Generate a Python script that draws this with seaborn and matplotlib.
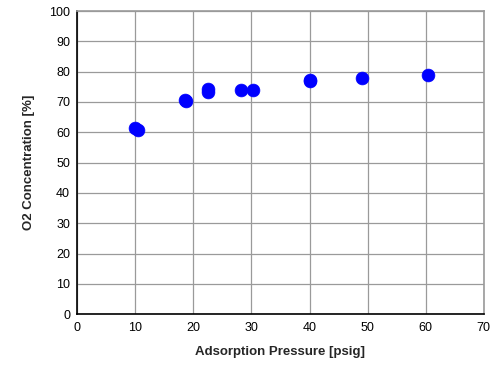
import matplotlib
matplotlib.use("Agg")
import matplotlib.pyplot as plt
from matplotlib.ticker import MultipleLocator
import seaborn as sns
import pandas as pd

# adsorption pressure [psig] vs O2 concentration [%]
pressure = [10.0, 10.5, 18.5, 18.7, 22.5, 22.5, 28.2, 30.3, 40.0, 40.0, 49.0, 60.4]
o2_conc = [61.5, 60.6, 70.7, 70.3, 74.2, 73.4, 73.9, 74.1, 77.3, 76.9, 77.9, 78.8]

df = pd.DataFrame({"pressure": pressure, "o2": o2_conc})

sns.set_style("white")
plt.rcParams["font.family"] = ["Liberation Sans", "DejaVu Sans"]

fig = plt.figure(figsize=(5.04, 3.67), dpi=100)
ax = fig.add_axes([0.153, 0.144, 0.807, 0.826])

sns.scatterplot(data=df, x="pressure", y="o2", ax=ax, color="#0000ff",
                s=85, edgecolor="#0000ff", linewidth=0.5, zorder=3)

ax.set_xlim(0, 70)
ax.set_ylim(0, 100)
ax.xaxis.set_major_locator(MultipleLocator(10))
ax.yaxis.set_major_locator(MultipleLocator(10))
ax.xaxis.set_minor_locator(MultipleLocator(5))
ax.yaxis.set_minor_locator(MultipleLocator(5))
ax.grid(True, which="major", color="#9a9a9a", linewidth=0.9)
ax.set_axisbelow(True)

ax.tick_params(which="both", direction="in", labelsize=9, colors="black")
ax.tick_params(which="major", length=4, width=0.8)
ax.tick_params(which="minor", length=3, width=0.8)
ax.tick_params(axis="x", pad=6)
ax.tick_params(axis="y", pad=5)

for side in ["left", "bottom"]:
    ax.spines[side].set_color("black")
    ax.spines[side].set_linewidth(1.2)
for side in ["top", "right"]:
    ax.spines[side].set_visible(True)
    ax.spines[side].set_color("#9a9a9a")
    ax.spines[side].set_linewidth(1.2)

ax.set_xlabel("Adsorption Pressure [psig]", fontsize=9.5, fontweight="bold", labelpad=8)
ax.set_ylabel("O2 Concentration [%]", fontsize=9.5, fontweight="bold", labelpad=10)

fig.savefig("out.png", dpi=100)
